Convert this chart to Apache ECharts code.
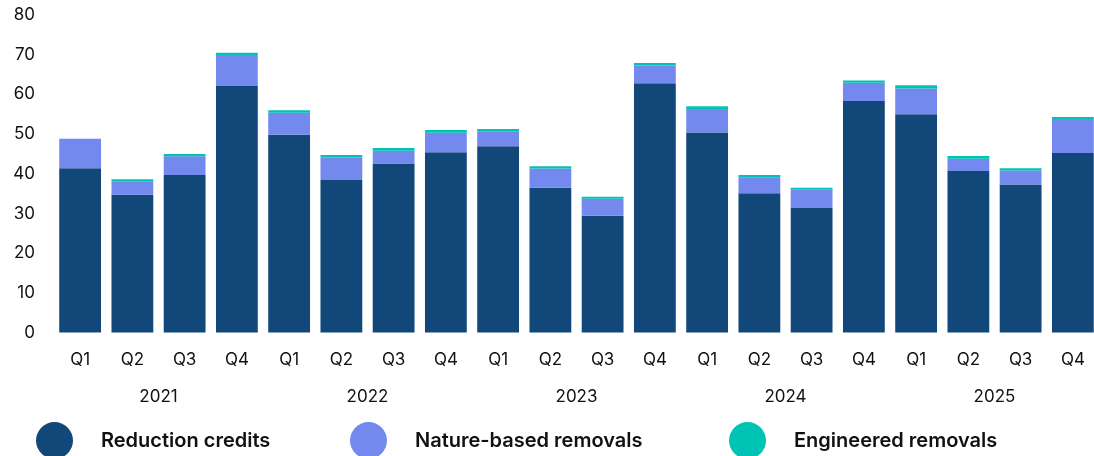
<!DOCTYPE html>
<html><head><meta charset="utf-8">
<script src="https://cdn.jsdelivr.net/npm/echarts@6/dist/echarts.min.js"></script>
<style>html,body{margin:0;padding:0;background:#fff}#c{width:1094px;height:456px}</style>
</head><body><div id="c"></div>
<script>
const quarters = ["Q1","Q2","Q3","Q4","Q1","Q2","Q3","Q4","Q1","Q2","Q3","Q4","Q1","Q2","Q3","Q4","Q1","Q2","Q3","Q4"];
const years = ["2021","2022","2023","2024","2025"];
const reduction = [41.4,34.7,39.7,62.1,49.8,38.4,42.6,45.4,46.9,36.5,29.4,62.8,50.4,35.1,31.4,58.3,55.0,40.7,37.3,45.2];
const nature = [7.4,3.4,4.7,7.8,5.6,5.7,3.2,4.9,3.8,4.8,4.3,4.5,5.9,3.9,4.6,4.6,6.5,3.1,3.5,8.6];
const engineered = [0,0.5,0.6,0.6,0.6,0.6,0.7,0.7,0.6,0.6,0.5,0.6,0.7,0.7,0.5,0.6,0.8,0.7,0.6,0.5];
const names = ["Reduction credits","Nature-based removals","Engineered removals"];
const colors = ["#12477A","#7389EE","#00C4B3"];

const font = "Inter, 'Noto Sans', sans-serif";
const chart = echarts.init(document.getElementById('c'), null, {renderer:'canvas'});
const legendText = {color:'#111', fontSize:20, fontWeight:600, fontFamily:font, padding:[0,0,0,23]};
const mkLegend = (name, left) => ({
  data:[{name, icon:'circle'}], left, top:417, itemWidth:37, itemHeight:37,
  textStyle:legendText, selectedMode:false
});
const barStyle = (c) => ({color:c});
chart.setOption({
  animation:false,
  color:colors,
  legend:[mkLegend(names[0],31), mkLegend(names[1],345), mkLegend(names[2],724)],
  grid:{left:54, width:1045, top:15, bottom:123.5, outerBoundsMode:'none', containLabel:false},
  xAxis:[{
    type:'category', data:quarters,
    axisLine:{show:false}, axisTick:{show:false},
    axisLabel:{color:'#111', fontSize:17, fontFamily:font, margin:19}
  },{
    type:'category', data:years, position:'bottom',
    axisLine:{show:false}, axisTick:{show:false},
    axisLabel:{color:'#111', fontSize:17, fontFamily:font, margin:56}
  }],
  yAxis:{
    type:'value', min:0, max:80, interval:10,
    axisLine:{show:false}, axisTick:{show:false}, splitLine:{show:false},
    axisLabel:{color:'#111', fontSize:17, fontFamily:font, margin:19}
  },
  series:[
    {name:names[0], type:'bar', stack:'t', data:reduction, barCategoryGap:'20%', itemStyle:barStyle(colors[0])},
    {name:names[1], type:'bar', stack:'t', data:nature, itemStyle:barStyle(colors[1])},
    {name:names[2], type:'bar', stack:'t', data:engineered, itemStyle:barStyle(colors[2])}
  ]
});
</script></body></html>
